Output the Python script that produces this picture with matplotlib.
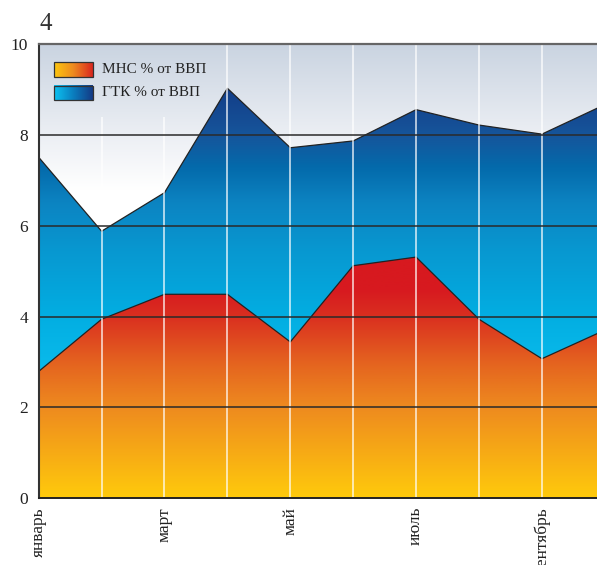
import numpy as np
import matplotlib
matplotlib.use('Agg')
import matplotlib.pyplot as plt
from matplotlib.colors import LinearSegmentedColormap
from matplotlib.patches import Polygon, Rectangle

plt.rcParams['font.family'] = ['Liberation Serif', 'DejaVu Serif']

# data
months = ['январь', 'февраль', 'март', 'апрель', 'май', 'июнь',
          'июль', 'август', 'сентябрь', 'октябрь']
gtk = [7.51, 5.88, 6.73, 9.03, 7.72, 7.87, 8.56, 8.22, 8.02, 8.67]
mns = [2.79, 3.94, 4.49, 4.49, 3.44, 5.12, 5.31, 3.94, 3.07, 3.70]
labels = ['МНС % от ВВП', 'ГТК % от ВВП']
yticks = [0, 2, 4, 6, 8, 10]

x = np.arange(len(months))

red_cmap = LinearSegmentedColormap.from_list('red', [
    (0.0, '#FFCA0C'), (0.2, '#EE8A1F'), (0.3, '#E4621F'),
    (0.4, '#DA2F20'), (0.46, '#D7191F'), (1.0, '#D7191F')])
blue_cmap = LinearSegmentedColormap.from_list('blue', [
    (0.0, '#10C8F5'), (0.25, '#0CBEEE'), (0.4, '#02AEE2'), (0.55, '#0897D0'),
    (0.65, '#0C84C2'), (0.73, '#046AAB'), (0.8, '#16559B'), (0.9, '#133E88'),
    (1.0, '#0E3380')])
bg_cmap = LinearSegmentedColormap.from_list('bg', [
    (0.0, '#FFFFFF'), (0.68, '#FFFFFF'), (0.8, '#ECEFF4'), (1.0, '#CAD4E1')])
leg_red = LinearSegmentedColormap.from_list('lr', ['#FDC70F', '#EE8A1F', '#D9261F'])
leg_blue = LinearSegmentedColormap.from_list('lb', ['#0CC3F2', '#0A7DBE', '#143A85'])

grad = np.linspace(0, 1, 256).reshape(-1, 1)

fig = plt.figure(figsize=(5.97, 5.65), dpi=100)
ax = fig.add_axes([38.7 / 597, 67 / 565, (597 - 38.7) / 597, 453.7 / 565])

# background
ax.imshow(grad, cmap=bg_cmap, aspect='auto', origin='lower',
          extent=[-1, 10, 0, 10], zorder=0)


def gradient_area(ax, xs, ys, cmap, z):
    verts = [(xs[0], 0)] + list(zip(xs, ys)) + [(xs[-1], 0)]
    poly = Polygon(verts, closed=True, facecolor='none', edgecolor='none')
    ax.add_patch(poly)
    im = ax.imshow(grad, cmap=cmap, aspect='auto', origin='lower',
                   extent=[xs[0], xs[-1], 0, 10], zorder=z)
    im.set_clip_path(poly)
    ax.plot(xs, ys, color='#222222', lw=0.9, zorder=z + 0.1)


gradient_area(ax, x, gtk, blue_cmap, 1)
gradient_area(ax, x, mns, red_cmap, 2)

# white month lines
for xi in x[1:]:
    ax.axvline(xi, color='white', lw=1.1, alpha=0.85, zorder=3)

# horizontal grid
for yv in yticks[1:-1]:
    ax.axhline(yv, color='#2a2a2a', lw=1.1, zorder=4)

# legend panel hides the month lines behind it
panel = ax.imshow(grad, cmap=bg_cmap, aspect='auto', origin='lower',
                  extent=[-1, 10, 0, 10], zorder=5)
panel.set_clip_path(Rectangle((0.1, 8.4), 2.5, 1.6, transform=ax.transData))

hg = np.linspace(0, 1, 256).reshape(1, -1)
ly = [0.944, 0.893]
for lab, cm, yy in zip(labels, [leg_red, leg_blue], ly):
    ax.imshow(hg, cmap=cm, aspect='auto',
              extent=[0.028, 0.097, yy - 0.016, yy + 0.016],
              transform=ax.transAxes, zorder=6)
    ax.add_patch(Rectangle((0.028, yy - 0.016), 0.069, 0.032,
                           transform=ax.transAxes, fill=False,
                           edgecolor='#333333', lw=0.9, zorder=7))
    ax.text(0.113, yy, lab, transform=ax.transAxes, fontsize=11,
            va='center', ha='left', color='#222222', zorder=7)

ax.set_xlim(0, 8.876)
ax.set_ylim(0, 10)
ax.set_yticks(yticks)
ax.set_xticks(x[::2], months[::2], rotation=90)
ax.tick_params(axis='both', length=0, labelsize=12.5, colors='#222222')
ax.tick_params(axis='y', pad=7.5)
ax.tick_params(axis='x', pad=6.5)
ax.spines['right'].set_visible(False)
ax.spines['top'].set_color('#666666')
ax.spines['top'].set_linewidth(1.6)
ax.spines['left'].set_color('#333333')
ax.spines['left'].set_linewidth(1.5)
ax.spines['bottom'].set_color('#222222')
ax.spines['bottom'].set_linewidth(1.4)
for s in ax.spines.values():
    s.set_zorder(8)

fig.text(40 / 597, 1 - 30 / 565, '4', fontsize=18, va='baseline',
         color='#333333')

fig.savefig('out.png', dpi=100)
